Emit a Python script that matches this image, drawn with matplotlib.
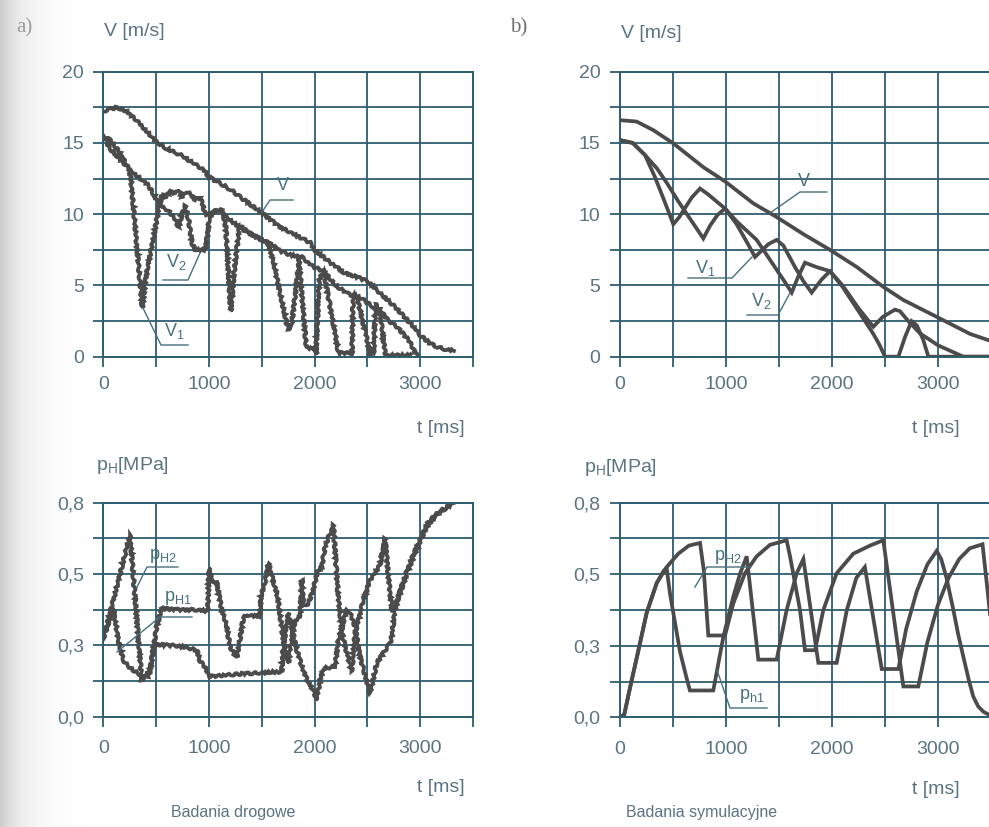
import numpy as np
import matplotlib
matplotlib.use('Agg')
import matplotlib.pyplot as plt
from matplotlib.lines import Line2D

plt.rcParams['font.family'] = ['Liberation Sans', 'DejaVu Sans']
plt.rcParams['mathtext.fontset'] = 'custom'
plt.rcParams['mathtext.rm'] = 'Liberation Sans'
plt.rcParams['mathtext.it'] = 'Liberation Sans'
plt.rcParams['mathtext.default'] = 'regular'

# ---------------- data ----------------
# a) road tests, velocities
ta_V = [0, 80, 130, 225, 352, 500, 600, 733, 850, 955, 1000, 1100, 1210, 1350, 1500, 1654, 1800, 1960, 2000,
        2150, 2289, 2400, 2500, 2600, 2733, 2850, 2939, 3000, 3100, 3160, 3240, 3320]
va_V = [17.2, 17.4, 17.5, 17.2, 16.3, 15.1, 14.6, 14.15, 13.6, 13.1, 12.6, 12.2, 11.7, 10.9, 10.1, 9.2, 8.6, 8.0, 7.5,
        6.6, 5.85, 5.6, 5.3, 4.6, 3.7, 2.8, 2.1, 1.5, 0.9, 0.7, 0.5, 0.45]
ta_V1 = [0, 64, 150, 240, 260, 370, 400, 479, 527, 559, 584, 640, 679, 720, 742, 790, 837, 869, 900, 932, 963,
         1000, 1083, 1130, 1160, 1206, 1240, 1289, 1400, 1500, 1560, 1606, 1749, 1781, 1860, 1992, 2086, 2228,
         2355, 2365, 2465, 2591, 2620, 2670, 2910]
va_V1 = [15.5, 14.6, 13.9, 13.2, 12.6, 3.4, 5.5, 8.5, 10.5, 11.4, 11.2, 11.6, 11.45, 11.7, 11.2, 11.6, 11.35, 11.0,
         11.2, 10.9, 10.0, 10.0, 10.3, 10.3, 9.0, 3.2, 6.0, 9.2, 8.6, 8.2, 7.9, 6.8, 1.9, 2.1, 7.1, 6.3, 6.0, 0.25,
         0.25, 4.4, 3.98, 3.3, 3.1, 0.1, 0.1]
ta_V2 = [0, 64, 150, 240, 300, 426, 506, 556, 620, 666, 713, 745, 777, 810, 838, 870, 965, 985, 1000, 1050, 1083,
         1200, 1305, 1400, 1500, 1590, 1654, 1750, 1850, 1921, 1953, 2000, 2013, 2044, 2086, 2200, 2307, 2402,
         2528, 2560, 2575, 2700, 2780, 2890, 2969]
va_V2 = [15.5, 15.2, 14.4, 13.2, 12.8, 12.05, 11.0, 10.5, 10.2, 9.8, 9.1, 10.0, 10.6, 9.5, 8.0, 7.5, 7.5, 8.5, 9.6,
         10.2, 10.3, 9.6, 9.0, 8.6, 8.2, 7.9, 7.5, 7.2, 7.0, 0.7, 0.6, 0.6, 0.2, 5.4, 6.0, 5.0, 4.45, 4.2, 0.2, 0.2,
         3.7, 2.5, 2.1, 1.17, 0.1]

# a) road tests, pressures
ta_p1 = [0, 95, 142, 189, 237, 280, 331, 363, 400, 442, 473, 505, 552, 700, 850, 990, 1000, 1026, 1074, 1121, 1168,
         1200, 1263, 1290, 1326, 1357, 1480, 1496, 1530, 1563, 1600, 1650, 1700, 1752, 1784, 1815, 1863, 1879, 1894,
         1941, 1989, 2021, 2068, 2099, 2178, 2226, 2273, 2352, 2383, 2462, 2526, 2620, 2668, 2700, 2731, 2770, 2816,
         2880, 2940, 3001, 3064, 3158, 3315]
pa_p1 = [0.29, 0.41, 0.287, 0.212, 0.187, 0.175, 0.162, 0.137, 0.15, 0.175, 0.25, 0.336, 0.405, 0.40, 0.40, 0.395,
         0.555, 0.51, 0.5, 0.40, 0.34, 0.26, 0.22, 0.28, 0.37, 0.38, 0.375, 0.46, 0.5, 0.573, 0.52, 0.45, 0.3, 0.2,
         0.287, 0.36, 0.374, 0.511, 0.41, 0.424, 0.474, 0.536, 0.56, 0.636, 0.717, 0.436, 0.287, 0.17, 0.31, 0.436,
         0.51, 0.567, 0.667, 0.52, 0.4, 0.42, 0.47, 0.54, 0.6, 0.66, 0.72, 0.76, 0.80]
ta_p2 = [0, 253, 363, 400, 430, 460, 473, 500, 700, 884, 915, 978, 994, 1300, 1690, 1700, 1752, 1831, 1879, 1941,
         1989, 2021, 2052, 2083, 2194, 2225, 2305, 2351, 2383, 2431, 2526, 2589, 2687, 2715, 2731, 2762, 2810, 2880,
         2950, 3001, 3064, 3158, 3315]
pa_p2 = [0.29, 0.68, 0.14, 0.16, 0.15, 0.2, 0.26, 0.27, 0.265, 0.25, 0.21, 0.175, 0.15, 0.16, 0.168, 0.25, 0.389,
         0.25, 0.19, 0.127, 0.10, 0.062, 0.137, 0.18, 0.187, 0.287, 0.4, 0.375, 0.336, 0.224, 0.087, 0.2, 0.26, 0.274,
         0.3, 0.4, 0.47, 0.55, 0.62, 0.66, 0.71, 0.755, 0.80]

# b) simulation, velocities
tb_V = [0, 157, 314, 503, 786, 991, 1258, 1478, 1730, 1981, 2233, 2484, 2673, 2987, 3302, 3500]
vb_V = [16.6, 16.5, 15.9, 14.97, 13.3, 12.3, 10.76, 9.8, 8.6, 7.5, 6.3, 4.9, 3.98, 2.8, 1.6, 1.1]
tb_V1 = [0, 120, 236, 350, 450, 550, 650, 786, 850, 920, 991, 1100, 1200, 1274, 1330, 1400, 1478, 1541, 1650, 1730,
         1808, 1900, 1981, 2100, 2250, 2390, 2480, 2594, 2640, 2720, 2830, 3000, 3239, 3500]
vb_V1 = [15.2, 15.0, 14.15, 13.2, 12.1, 10.9, 9.8, 8.3, 9.2, 9.95, 10.4, 9.3, 8.0, 7.0, 7.4, 7.9, 8.2, 7.8, 6.3, 5.3,
         4.5, 5.4, 6.0, 5.0, 3.4, 2.1, 2.8, 3.3, 3.2, 2.5, 1.64, 0.8, 0.0, 0.0]
tb_V2 = [0, 120, 236, 330, 420, 503, 560, 610, 680, 755, 830, 910, 991, 1100, 1289, 1415, 1541, 1620, 1680, 1745,
         1850, 1981, 2100, 2250, 2390, 2450, 2500, 2626, 2690, 2751, 2800, 2860, 2909, 3500]
vb_V2 = [15.2, 15.0, 14.15, 12.6, 10.9, 9.3, 9.8, 10.4, 11.2, 11.8, 11.4, 10.9, 10.4, 9.5, 8.2, 6.8, 5.4, 4.5, 5.6, 6.6,
         6.3, 6.0, 4.9, 3.2, 1.6, 0.8, 0.0, 0.0, 1.4, 2.5, 2.2, 1.2, 0.0, 0.0]

# b) simulation, pressures
tb_p1 = [0, 40, 100, 157, 252, 346, 410, 440, 472, 566, 629, 660, 880, 975, 1069, 1132, 1195, 1305, 1478, 1572,
         1667, 1730, 1871, 2044, 2140, 2230, 2310, 2469, 2626, 2700, 2800, 2900, 2987, 3030, 3080, 3145, 3190, 3239,
         3290, 3333, 3380, 3428, 3500]
pb_p1 = [0, 0.01, 0.12, 0.22, 0.39, 0.5, 0.545, 0.556, 0.46, 0.245, 0.145, 0.10, 0.10, 0.30, 0.45, 0.535, 0.6, 0.215,
         0.215, 0.40, 0.537, 0.59, 0.203, 0.203, 0.40, 0.52, 0.56, 0.18, 0.18, 0.33, 0.47, 0.57, 0.62, 0.59, 0.52,
         0.40, 0.31, 0.226, 0.14, 0.077, 0.04, 0.021, 0.005]
tb_p2 = [0, 40, 100, 157, 252, 346, 440, 550, 650, 755, 790, 833, 991, 1069, 1179, 1289, 1415, 1572, 1604, 1698,
         1745, 1840, 1918, 2044, 2201, 2358, 2484, 2673, 2814, 2900, 3000, 3100, 3200, 3300, 3420, 3460, 3500]
pb_p2 = [0, 0.01, 0.12, 0.22, 0.39, 0.5, 0.56, 0.61, 0.64, 0.65, 0.55, 0.305, 0.305, 0.425, 0.537, 0.6, 0.643, 0.66,
         0.6, 0.4, 0.25, 0.25, 0.40, 0.537, 0.61, 0.64, 0.66, 0.115, 0.115, 0.28, 0.42, 0.52, 0.59, 0.63, 0.645, 0.5,
         0.35]

x_ticks = [0, 500, 1000, 1500, 2000, 2500, 3000, 3500]
x_labels = ['0', '', '1000', '', '2000', '', '3000', '']
v_ticks = [0, 2.5, 5, 7.5, 10, 12.5, 15, 17.5, 20]
v_labels = ['0', '', '5', '', '10', '', '15', '', '20']
p_ticks = [0, 0.1333, 0.2667, 0.4, 0.5333, 0.6667, 0.8]
p_labels = ['0,0', '', '0,3', '', '0,5', '', '0,8']

# ---------------- style ----------------
W, H = 989, 827
GRID = '#2c5d70'
TXT = '#5a7482'
LBL = '#46707e'
CURVE = '#4b4b4b'
FS = 14

fig = plt.figure(figsize=(W / 100, H / 100), dpi=100)

bg = fig.add_axes([0, 0, 1, 1], zorder=-10)
xs = np.arange(W)
shade = 1 - 0.2 * np.exp(-xs / 22.0)
bg.imshow(np.tile(shade, (H, 1)), cmap='gray', vmin=0, vmax=1, aspect='auto', extent=[0, W, H, 0])
bg.set_xlim(0, W); bg.set_ylim(H, 0)
bg.axis('off')


def box(x0, y0, x1, y1):
    return [x0 / W, 1 - y1 / H, (x1 - x0) / W, (y1 - y0) / H]


def fxy(x, y):
    return x / W, 1 - y / H


def setup(ax, ylim, yt, yl, xpad):
    ax.set_xlim(0, 3500)
    ax.set_ylim(*ylim)
    ax.set_xticks(x_ticks)
    ax.set_xticklabels(x_labels)
    ax.set_yticks(yt)
    ax.set_yticklabels(yl)
    ax.grid(True, color=GRID, lw=1.3)
    ax.set_axisbelow(True)
    for s in ax.spines.values():
        s.set_color(GRID)
        s.set_linewidth(1.4)
    ax.tick_params(direction='out', length=7, width=1.3, color=GRID, labelcolor=TXT, labelsize=FS)
    ax.tick_params(axis='x', pad=xpad)
    ax.tick_params(axis='y', pad=7)
    ax.set_facecolor('none')


def curve(ax, t, y, jag):
    ln, = ax.plot(t, y, color=CURVE, lw=2.7, solid_joinstyle='miter', clip_on=True)
    if jag:
        ln.set_sketch_params(scale=1.1, length=7, randomness=3)
    return ln


def leader(pts):
    xs_ = [fxy(x, y)[0] for x, y in pts]
    ys_ = [fxy(x, y)[1] for x, y in pts]
    fig.add_artist(Line2D(xs_, ys_, transform=fig.transFigure, color=LBL, lw=1.0))


def label(x, y, s, size=13):
    fx, fy = fxy(x, y)
    fig.text(fx, fy, s, color=LBL, fontsize=size, ha='center', va='center')


axA = fig.add_axes(box(103.3, 71.7, 473, 356.7))
axB = fig.add_axes(box(620, 71.7, 991, 356.7))
axC = fig.add_axes(box(103.3, 502.7, 473, 716.7))
axD = fig.add_axes(box(620, 502.7, 991, 717.3))

for ax in (axA, axB):
    setup(ax, (0, 20), v_ticks, v_labels, 7)
for ax in (axC, axD):
    setup(ax, (0, 0.8), p_ticks, p_labels, 10)

curve(axA, ta_V, va_V, True)
curve(axA, ta_V1, va_V1, True)
curve(axA, ta_V2, va_V2, True)
curve(axB, tb_V, vb_V, False)
curve(axB, tb_V1, vb_V1, False)
curve(axB, tb_V2, vb_V2, False)
curve(axC, ta_p1, pa_p1, True)
curve(axC, ta_p2, pa_p2, True)
curve(axD, tb_p1, pb_p1, False)
curve(axD, tb_p2, pb_p2, False)

# in-plot labels with leader lines
label(283, 186, 'V')
leader([(262, 212), (270, 200), (293, 200)])
label(176, 262, 'V$_2$')
leader([(200, 253), (188, 280), (163, 280)])
label(174, 331, 'V$_1$')
leader([(143, 308), (161, 345), (188, 345)])

label(804, 182, 'V')
leader([(770, 213), (800, 192), (827, 192)])
label(705, 268, 'V$_1$')
leader([(752, 257), (732, 278), (688, 278)])
label(761, 301, 'V$_2$')
leader([(790, 293), (778, 315), (747, 315)])

label(163, 556, 'p$_{H2}$')
leader([(137, 587), (147, 567), (178, 567)])
label(178, 598, 'p$_{H1}$')
leader([(117, 652), (160, 617), (192, 617)])

label(728, 557, 'p$_{H2}$')
leader([(695, 587), (707, 567), (750, 567)])
label(752, 696, 'p$_{h1}$')
leader([(717, 670), (730, 708), (767, 708)])


# axis titles and captions
def ftext(x, y, s, size=FS, ha='left', color=TXT, **kw):
    fx, fy = fxy(x, y)
    fig.text(fx, fy, s, fontsize=size, ha=ha, va='center', color=color, **kw)


ftext(104, 31, 'V [m/s]')
ftext(621, 33, 'V [m/s]')
ftext(441, 428, 't [ms]', ha='center')
ftext(936, 428, 't [ms]', ha='center')
ftext(96, 466, 'p$_H$[MPa]')
ftext(584, 468, 'p$_H$[MPa]')
ftext(441, 788, 't [ms]', ha='center')
ftext(936, 790, 't [ms]', ha='center')
ftext(233, 812, 'Badania drogowe', ha='center', size=11.5)
ftext(702, 812, 'Badania symulacyjne', ha='center', size=11.5)
ftext(24, 28, 'a)', ha='center', color='#9b9b9b', family='Liberation Serif', size=15)
ftext(519, 28, 'b)', ha='center', color='#6f6f6f', family='Liberation Serif', size=15)

fig.savefig('out.png', dpi=100)
